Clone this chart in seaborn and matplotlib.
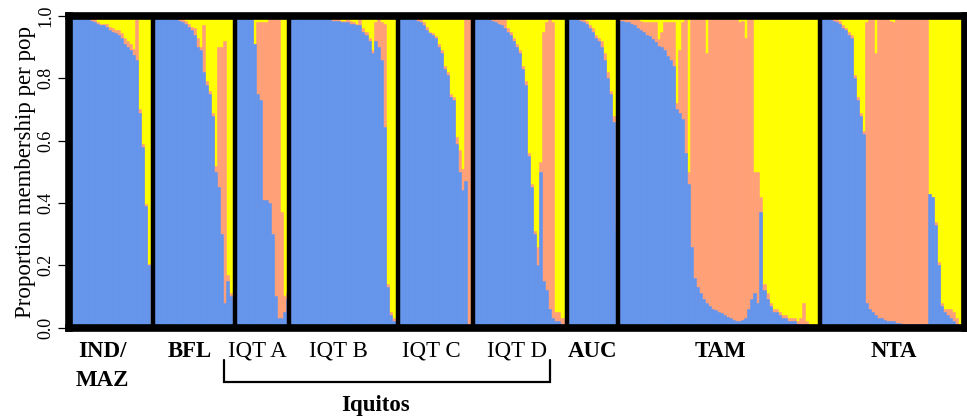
import numpy as np
import pandas as pd
import seaborn as sns
import matplotlib
matplotlib.use("Agg")
import matplotlib.pyplot as plt
import matplotlib.transforms as mtransforms

# ------------------------------
# Population labels
# ------------------------------
pop_names = ["IND/\nMAZ", "BFL", "IQT A", "IQT B", "IQT C", "IQT D", "AUC", "TAM", "NTA"]
pop_bold = [True, True, False, False, False, False, True, True, True]
group_name = "Iquitos"

# ------------------------------
# Membership proportions per individual (blue / salmon cluster, yellow = rest)
# ------------------------------
indmaz_blue = [1.00, 1.00, 1.00, 1.00, 0.99, 0.99, 0.99, 0.985, 0.98, 0.975, 0.97, 0.97, 0.965, 0.955,
               0.95, 0.945, 0.94, 0.93, 0.91, 0.90, 0.89, 0.875, 0.86, 0.69, 0.58, 0.39, 0.20, 0.01]
indmaz_salmon = [0, 0, 0, 0, 0.01, 0.01, 0.01, 0.01, 0.01, 0.005, 0.005, 0.005, 0.01, 0.01,
                 0.01, 0.01, 0.015, 0.015, 0.02, 0.02, 0.02, 0.02, 0.13, 0.01, 0.01, 0.005, 0.005, 0]

bfl_blue = [1.00, 1.00, 1.00, 1.00, 0.995, 0.99, 0.99, 0.99, 0.985, 0.98, 0.975, 0.965, 0.955, 0.94,
            0.90, 0.89, 0.82, 0.78, 0.75, 0.68, 0.50, 0.45, 0.30, 0.08, 0.15, 0.10, 0.08]
bfl_salmon = [0, 0, 0, 0, 0.005, 0.01, 0.01, 0.01, 0.01, 0.01, 0.01, 0.01, 0.01, 0.02,
              0.03, 0.01, 0.15, 0.01, 0.01, 0.01, 0.02, 0.45, 0.60, 0.84, 0.02, 0.01, 0.01]

iqta_blue = [1.00, 1.00, 1.00, 1.00, 1.00, 0.99, 0.91, 0.75, 0.73, 0.41, 0.41, 0.40, 0.30, 0.10,
             0.03, 0.03, 0.05, 0.09]
iqta_salmon = [0, 0, 0, 0, 0, 0, 0, 0.23, 0.25, 0.57, 0.57, 0.59, 0.69, 0.89,
               0.96, 0.34, 0.05, 0.02]

iqtb_blue = [1.00, 1.00, 1.00, 1.00, 1.00, 1.00, 1.00, 1.00, 1.00, 1.00, 0.995, 0.995, 0.99, 0.99,
             0.985, 0.985, 0.985, 0.98, 0.98, 0.98, 0.975, 0.975, 0.97, 0.97, 0.95, 0.94, 0.92, 0.88,
             0.92, 0.90, 0.86, 0.645, 0.13, 0.04, 0.02, 0.02]
iqtb_salmon = [0, 0, 0, 0, 0, 0, 0, 0, 0, 0, 0.005, 0.005, 0.01, 0.01,
               0.01, 0.005, 0.005, 0.005, 0.005, 0.01, 0.01, 0.005, 0.005, 0.02, 0.01, 0.01, 0.01, 0.01,
               0.06, 0.09, 0.12, 0.33, 0.01, 0.01, 0.01, 0]

iqtc_blue = [1.00, 1.00, 1.00, 1.00, 1.00, 0.99, 0.985, 0.98, 0.97, 0.955, 0.945, 0.94, 0.93, 0.90,
             0.88, 0.83, 0.81, 0.74, 0.73, 0.59, 0.50, 0.44, 0.47, 0.01, 0.01]
iqtc_salmon = [0, 0, 0, 0, 0, 0.01, 0.01, 0.01, 0.01, 0.01, 0.005, 0.005, 0.005, 0.01,
               0.01, 0.01, 0.01, 0.01, 0.01, 0.02, 0.07, 0.07, 0.52, 0.98, 0.98]

iqtd_blue = [1.00, 1.00, 1.00, 0.995, 0.99, 0.99, 0.985, 0.98, 0.975, 0.97, 0.96, 0.95, 0.94, 0.92,
             0.90, 0.88, 0.83, 0.78, 0.55, 0.45, 0.30, 0.20, 0.50, 0.15, 0.12, 0.06, 0.03, 0.02,
             0.02, 0.01, 0.01]
iqtd_salmon = [0, 0, 0, 0.005, 0.01, 0.01, 0.015, 0.02, 0.02, 0.02, 0.03, 0.01, 0.01, 0.01,
               0.01, 0.01, 0.01, 0.01, 0.01, 0.01, 0.01, 0.06, 0.03, 0.80, 0.86, 0.93, 0.95, 0.03,
               0.03, 0.02, 0.02]

auc_blue = [1.00, 1.00, 1.00, 0.99, 0.985, 0.98, 0.975, 0.96, 0.95, 0.93, 0.92, 0.90, 0.86, 0.80,
            0.75, 0.66, 0.31]
auc_salmon = [0, 0, 0, 0.01, 0.005, 0.01, 0.01, 0.01, 0.01, 0.01, 0.01, 0.02, 0.02, 0.02,
              0.01, 0.02, 0.02]

tam_blue = [0.985, 0.985, 0.98, 0.98, 0.975, 0.97, 0.96, 0.955, 0.95, 0.94, 0.935, 0.925, 0.915, 0.905,
            0.90, 0.89, 0.87, 0.86, 0.84, 0.70, 0.69, 0.67, 0.56, 0.46, 0.26, 0.16, 0.13, 0.11,
            0.09, 0.08, 0.07, 0.06, 0.055, 0.05, 0.045, 0.04, 0.035, 0.03, 0.025, 0.02, 0.02, 0.025,
            0.03, 0.06, 0.09, 0.11, 0.08, 0.37, 0.12, 0.09, 0.07, 0.05, 0.05, 0.04, 0.03, 0.03,
            0.02, 0.02, 0.02, 0.01, 0.01, 0.01, 0.01, 0.005, 0.005, 0, 0]
tam_salmon = [0.01, 0.005, 0.01, 0.01, 0.015, 0.02, 0.03, 0.03, 0.03, 0.04, 0.045, 0.055, 0.065, 0.02,
              0.05, 0.09, 0.11, 0.12, 0.14, 0.02, 0.20, 0.31, 0.43, 0.04, 0.73, 0.83, 0.86, 0.88,
              0.90, 0.80, 0.92, 0.93, 0.935, 0.94, 0.945, 0.95, 0.955, 0.96, 0.965, 0.97, 0.96, 0.96,
              0.90, 0.93, 0.90, 0.39, 0.42, 0.05, 0.02, 0.02, 0.01, 0.01, 0.01, 0.01, 0.01, 0.01,
              0.01, 0.01, 0.01, 0.01, 0.02, 0.07, 0.01, 0.005, 0.005, 0, 0]

nta_blue = [1.00, 0.995, 0.99, 0.99, 0.985, 0.98, 0.975, 0.96, 0.955, 0.94, 0.93, 0.80, 0.73, 0.68,
            0.62, 0.08, 0.06, 0.05, 0.04, 0.03, 0.03, 0.025, 0.02, 0.02, 0.02, 0.015, 0.015, 0.01,
            0.01, 0.01, 0.01, 0.01, 0.01, 0.01, 0.01, 0.01, 0.43, 0.42, 0.33, 0.20, 0.07, 0.05,
            0.04, 0.03, 0.02, 0.01, 0, 0]
nta_salmon = [0, 0.005, 0.01, 0.005, 0.01, 0.01, 0.01, 0.01, 0.005, 0.01, 0.01, 0.01, 0.01, 0.01,
              0.01, 0.90, 0.93, 0.94, 0.84, 0.96, 0.965, 0.97, 0.975, 0.965, 0.96, 0.98, 0.98, 0.985,
              0.985, 0.985, 0.985, 0.985, 0.985, 0.985, 0.985, 0.985, 0, 0, 0.01, 0.01, 0.01, 0.01,
              0.02, 0.03, 0.03, 0.02, 0.01, 0]

blues = [indmaz_blue, bfl_blue, iqta_blue, iqtb_blue, iqtc_blue, iqtd_blue, auc_blue, tam_blue, nta_blue]
salmons = [indmaz_salmon, bfl_salmon, iqta_salmon, iqtb_salmon, iqtc_salmon, iqtd_salmon,
           auc_salmon, tam_salmon, nta_salmon]

# ------------------------------
# Long table, one row per individual
# ------------------------------
rows = []
for name, b, s in zip(pop_names, blues, salmons):
    for bi, si in zip(b, s):
        rows.append({"pop": name, "blue": bi, "salmon": si})
df = pd.DataFrame(rows)
df["yellow"] = (1 - df["blue"] - df["salmon"]).clip(lower=0)
df["ind"] = np.arange(len(df))
df["top_salmon"] = df["blue"] + df["salmon"]
df["top_yellow"] = df["top_salmon"] + df["yellow"]

counts = [len(b) for b in blues]
edges = np.cumsum([0] + counts)
n_ind = edges[-1]

# ------------------------------
# Figure
# ------------------------------
sns.set_theme(style="white")
plt.rcParams["font.family"] = ["Liberation Serif", "DejaVu Serif"]

W, H = 967, 419
fig = plt.figure(figsize=(W / 100, H / 100), dpi=100)
ax = fig.add_axes([69 / W, 1 - 327.5 / H, 895.5 / W, 311.5 / H])

colors = {"top_yellow": "#FFFF00", "top_salmon": "#FFA07A", "blue": "#6495ED"}
for col, c in colors.items():
    sns.barplot(data=df, x="ind", y=col, color=c, saturation=1, width=1,
                errorbar=None, linewidth=0.4, edgecolor=c, ax=ax)

ax.set_xlim(-0.5, n_ind - 0.5)
ax.set_ylim(0, 1)

# population separators
for e in edges[1:-1]:
    ax.axvline(e - 0.5, color="black", lw=3.2, zorder=3)

for sp in ax.spines.values():
    sp.set_visible(True)
    sp.set_linewidth(5.5)
    sp.set_color("black")
    sp.set_zorder(4)

ax.set_xticks([])
ax.set_xlabel("")
yt = [0.0, 0.2, 0.4, 0.6, 0.8, 1.0]
ax.set_yticks(yt)
ax.set_yticklabels([f"{v:.1f}" for v in yt])
ax.tick_params(axis="y", left=True, length=8, width=0.9, pad=2.5, labelsize=13,
               labelrotation=90, color="black", labelcolor="black")
for lab in ax.get_yticklabels():
    lab.set_va("center")

ax.set_ylabel("Proportion membership per pop", fontsize=16.5, color="black")
ax.yaxis.set_label_coords(-0.0374, 0.5)

# ------------------------------
# Population labels, bracket, group label
# ------------------------------
trans = mtransforms.blended_transform_factory(ax.transData, ax.transAxes)
label_shift = [-3, -1.5, -1.5, -1.5, -1.5, -1, 0, 0.5, 0.5]
base_y = -0.0947
line_step = 0.093
for i, name in enumerate(pop_names):
    xc = (edges[i] + edges[i + 1]) / 2 - 0.5 + label_shift[i]
    for j, line in enumerate(name.split("\n")):
        ax.text(xc, base_y - j * line_step, line, transform=trans, ha="center", va="baseline",
                fontsize=16.5, fontweight="bold" if pop_bold[i] else "normal",
                color="black", clip_on=False)

bx0, bx1 = edges[2] - 4, edges[6] - 6
ax.plot([bx0, bx0, bx1, bx1], [-0.104, -0.175, -0.175, -0.104], transform=trans,
        color="black", lw=1.6, clip_on=False, solid_joinstyle="miter")
ax.text((bx0 + bx1) / 2 - 4, -0.268, group_name, transform=trans, ha="center", va="baseline",
        fontsize=16.5, fontweight="bold", color="black", clip_on=False)

fig.savefig("out.png", dpi=100)
